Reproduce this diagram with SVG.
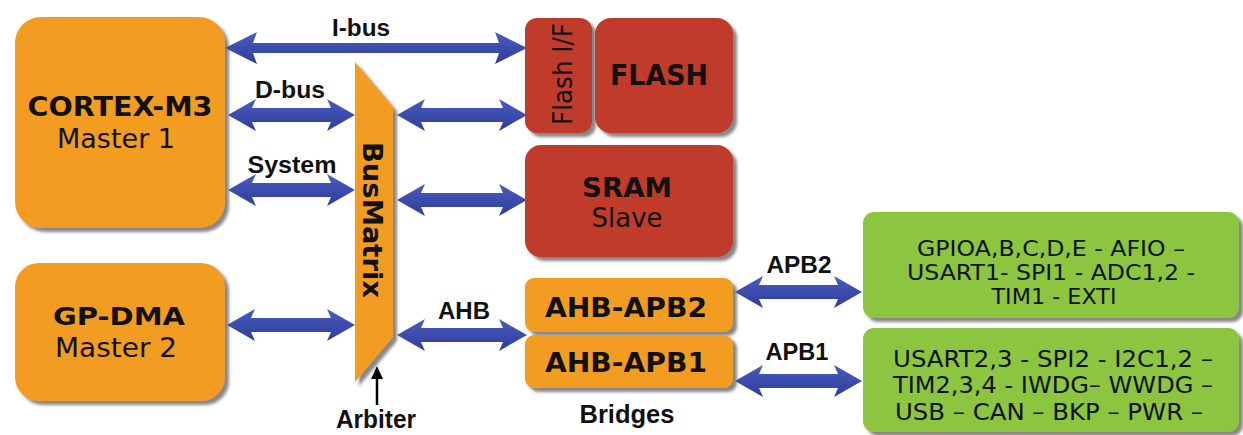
<svg xmlns="http://www.w3.org/2000/svg" width="1243" height="435" viewBox="0 0 1243 435">
<defs>
<filter id="sh" x="-10%" y="-10%" width="125%" height="130%">
<feDropShadow dx="4" dy="4" stdDeviation="1.5" flood-color="#555" flood-opacity="0.7"/>
</filter>
<linearGradient id="blue" x1="0" y1="0" x2="0" y2="1">
<stop offset="0" stop-color="#4a5cc0"/>
<stop offset="1" stop-color="#2f3d9a"/>
</linearGradient>
</defs>
<style>
.orange{fill:#f39c22;filter:url(#sh)}
.red{fill:#c03a2b;filter:url(#sh)}
.green{fill:#8cc63f;filter:url(#sh)}
.arrow{fill:url(#blue)}
.nb{font-family:"DejaVu Sans",Verdana,sans-serif;font-weight:bold;fill:#111;text-anchor:middle}
.nn{font-family:"DejaVu Sans",Verdana,sans-serif;fill:#111;text-anchor:middle}
.lbl{font-family:"Liberation Sans",Arial,sans-serif;font-weight:bold;fill:#111;text-anchor:middle;font-size:23px}
</style>
<rect width="1243" height="435" fill="#ffffff"/>

<g id="connectors">
<path class="arrow" d="M225,48 L257,32 L253,43 L499,43 L495,32 L527,48 L495,64 L499,53 L253,53 L257,64 Z"/>
<path class="arrow" d="M228,115 L256,99 L252,108 L331,108 L327,99 L355,115 L327,131 L331,122 L252,122 L256,131 Z"/>
<path class="arrow" d="M228,190 L256,174 L252,183 L331,183 L327,174 L355,190 L327,206 L331,197 L252,197 L256,206 Z"/>
<path class="arrow" d="M227,325 L255,309 L251,318 L331,318 L327,309 L355,325 L327,341 L331,332 L251,332 L255,341 Z"/>
<path class="arrow" d="M397,115 L425,99 L421,108 L503,108 L499,99 L527,115 L499,131 L503,122 L421,122 L425,131 Z"/>
<path class="arrow" d="M397,200 L425,184 L421,193 L503,193 L499,184 L527,200 L499,216 L503,207 L421,207 L425,216 Z"/>
<path class="arrow" d="M397,335 L425,319 L421,328 L503,328 L499,319 L527,335 L499,351 L503,342 L421,342 L425,351 Z"/>
<path class="arrow" d="M735,292 L763,276 L759,285 L838,285 L834,276 L862,292 L834,308 L838,299 L759,299 L763,308 Z"/>
<path class="arrow" d="M735,381 L763,365 L759,374 L838,374 L834,365 L862,381 L834,397 L838,388 L759,388 L763,397 Z"/>
<line x1="377" y1="405" x2="377" y2="376" stroke="#000" stroke-width="2.5"/>
<polygon points="377,366 371,379 383,379" fill="#000"/>
<text class="lbl" x="361" y="36" textLength="58" lengthAdjust="spacingAndGlyphs">I-bus</text>
<text class="lbl" x="290" y="98" textLength="70" lengthAdjust="spacingAndGlyphs">D-bus</text>
<text class="lbl" x="292" y="173" textLength="89" lengthAdjust="spacingAndGlyphs">System</text>
<text class="lbl" x="464" y="319" textLength="52" lengthAdjust="spacingAndGlyphs">AHB</text>
<text class="lbl" x="799" y="273" textLength="65" lengthAdjust="spacingAndGlyphs">APB2</text>
<text class="lbl" x="797" y="360" textLength="63" lengthAdjust="spacingAndGlyphs">APB1</text>
<text class="lbl" x="376" y="428" style="font-size:25px" textLength="80" lengthAdjust="spacingAndGlyphs">Arbiter</text>
<text class="lbl" x="627" y="423" style="font-size:25px" textLength="95" lengthAdjust="spacingAndGlyphs">Bridges</text>
</g>

<g id="cortex">
<rect class="orange" x="15" y="17" width="210" height="211" rx="26"/>
<text class="nb" x="120" y="116" font-size="26" textLength="185" lengthAdjust="spacingAndGlyphs">CORTEX-M3</text>
<text class="nn" x="116" y="148" font-size="27" textLength="118" lengthAdjust="spacingAndGlyphs">Master 1</text>
</g>

<g id="gpdma">
<rect class="orange" x="15" y="263" width="210" height="138" rx="24"/>
<text class="nb" x="119" y="325" font-size="25" textLength="132" lengthAdjust="spacingAndGlyphs">GP-DMA</text>
<text class="nn" x="116" y="357" font-size="27" textLength="122" lengthAdjust="spacingAndGlyphs">Master 2</text>
</g>

<g id="busmatrix">
<polygon points="355,62 393,107 393,337 355,382" fill="#f39c22" filter="url(#sh)"/>
<text class="nb" transform="translate(363,220) rotate(90)" x="0" y="0" font-size="27" textLength="156" lengthAdjust="spacingAndGlyphs">BusMatrix</text>
</g>

<g id="flashif">
<rect class="red" x="525" y="18" width="67" height="115" rx="12"/>
<text class="nn" transform="translate(572,74) rotate(-90)" x="0" y="0" font-size="27" textLength="102" lengthAdjust="spacingAndGlyphs">Flash I/F</text>
</g>

<g id="flash">
<rect class="red" x="595" y="18" width="138" height="115" rx="16"/>
<text class="nb" x="659" y="85" font-size="29" textLength="98" lengthAdjust="spacingAndGlyphs">FLASH</text>
</g>

<g id="sram">
<rect class="red" x="525" y="145" width="208" height="112" rx="16"/>
<text class="nb" x="627" y="197" font-size="27" textLength="90" lengthAdjust="spacingAndGlyphs">SRAM</text>
<text class="nn" x="627" y="227" font-size="26" textLength="71" lengthAdjust="spacingAndGlyphs">Slave</text>
</g>

<g id="ahbapb2">
<rect class="orange" x="525" y="278" width="208" height="54" rx="9"/>
<text class="nb" x="626" y="317" font-size="27" textLength="162" lengthAdjust="spacingAndGlyphs">AHB-APB2</text>
</g>

<g id="ahbapb1">
<rect class="orange" x="525" y="335" width="208" height="53" rx="9"/>
<text class="nb" x="626" y="372" font-size="27" textLength="162" lengthAdjust="spacingAndGlyphs">AHB-APB1</text>
</g>

<g id="apb2periph">
<rect class="green" x="863" y="212" width="376" height="106" rx="11"/>
<text class="nn" x="1051" y="256" font-size="21" textLength="268" lengthAdjust="spacingAndGlyphs">GPIOA,B,C,D,E - AFIO –</text>
<text class="nn" x="1051" y="280" font-size="21" textLength="288" lengthAdjust="spacingAndGlyphs">USART1- SPI1 - ADC1,2 -</text>
<text class="nn" x="1054" y="304" font-size="21" textLength="125" lengthAdjust="spacingAndGlyphs">TIM1 - EXTI</text>
</g>

<g id="apb1periph">
<rect class="green" x="863" y="328" width="376" height="104" rx="11"/>
<text class="nn" x="1053" y="367" font-size="23" textLength="320" lengthAdjust="spacingAndGlyphs">USART2,3 - SPI2 - I2C1,2 –</text>
<text class="nn" x="1053" y="393" font-size="23" textLength="320" lengthAdjust="spacingAndGlyphs">TIM2,3,4 - IWDG– WWDG –</text>
<text class="nn" x="1049" y="420" font-size="23" textLength="308" lengthAdjust="spacingAndGlyphs">USB – CAN – BKP – PWR –</text>
</g>
</svg>
